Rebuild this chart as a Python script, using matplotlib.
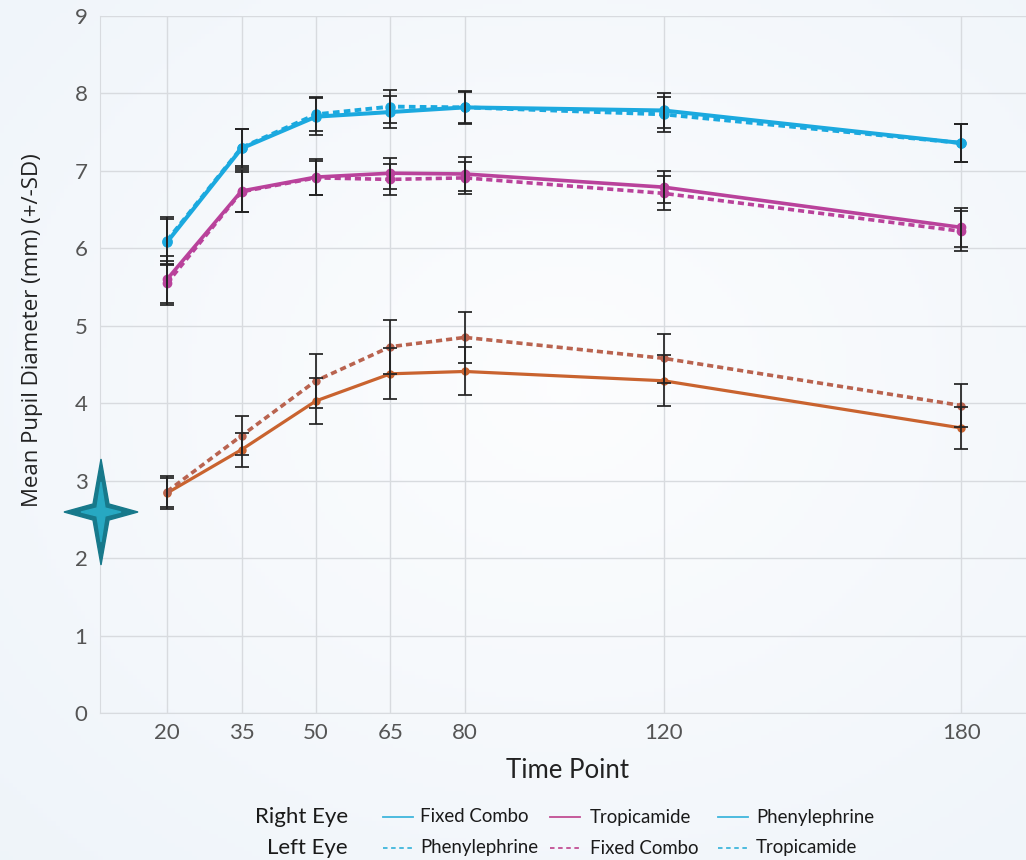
import numpy as np
import matplotlib.pyplot as plt
from matplotlib.patches import Polygon
from matplotlib.lines import Line2D

# %% data
time_points = [20, 35, 50, 65, 80, 120, 180]

blue_solid = [6.08, 7.29, 7.70, 7.76, 7.82, 7.78, 7.36]
blue_solid_sd = [0.30, 0.25, 0.24, 0.21, 0.21, 0.22, 0.25]
blue_dash = [6.10, 7.30, 7.73, 7.83, 7.82, 7.73, 7.36]
blue_dash_sd = [0.30, 0.24, 0.22, 0.21, 0.20, 0.23, 0.25]

mag_solid = [5.60, 6.74, 6.92, 6.97, 6.96, 6.79, 6.27]
mag_solid_sd = [0.30, 0.27, 0.23, 0.20, 0.22, 0.21, 0.25]
mag_dash = [5.55, 6.73, 6.91, 6.89, 6.91, 6.71, 6.22]
mag_dash_sd = [0.28, 0.26, 0.22, 0.20, 0.21, 0.22, 0.26]

org_solid = [2.84, 3.40, 4.03, 4.38, 4.41, 4.29, 3.68]
org_solid_sd = [0.20, 0.22, 0.30, 0.33, 0.31, 0.33, 0.27]
org_dash = [2.86, 3.58, 4.29, 4.73, 4.85, 4.58, 3.97]
org_dash_sd = [0.20, 0.25, 0.35, 0.35, 0.33, 0.32, 0.28]

legend_rows = ['Right Eye', 'Left Eye']
legend_right = ['Fixed Combo', 'Tropicamide', 'Phenylephrine']
legend_left = ['Phenylephrine', 'Fixed Combo', 'Tropicamide']

# %% figure
W, H = 1026, 860
fig = plt.figure(figsize=(W / 100, H / 100), dpi=100)

# soft background gradient
bg = fig.add_axes([0, 0, 1, 1], zorder=-10)
yy, xx = np.mgrid[0:1:200j, 0:1:240j]
r = np.sqrt(((xx - 0.55) / 0.95) ** 2 + ((yy - 0.45) / 0.95) ** 2)
shade = np.clip(r, 0, 1)
c0 = np.array([0.99, 0.993, 0.997])
c1 = np.array([0.925, 0.95, 0.975])
img = c0 + (c1 - c0) * shade[..., None]
bg.imshow(img, aspect='auto', extent=[0, 1, 0, 1], origin='upper')
bg.axis('off')

ax = fig.add_axes([100 / W, 1 - 713 / H, 926 / W, 697 / H])
ax.set_facecolor('none')

blue = '#1BA9DF'
mag = '#B9429B'
org = '#C9632F'
org2 = '#B9634F'
dash = (0, (1.7, 1.1))

series = [
    (org_solid, org_solid_sd, org, '-', 2.3, 5),
    (org_dash, org_dash_sd, org2, dash, 2.6, 5),
    (mag_dash, mag_dash_sd, mag, dash, 2.6, 6),
    (mag_solid, mag_solid_sd, mag, '-', 2.6, 6),
    (blue_dash, blue_dash_sd, blue, dash, 2.8, 6.5),
    (blue_solid, blue_solid_sd, blue, '-', 2.9, 6.5),
]
for vals, sd, col, ls, lw, ms in series:
    ax.plot(time_points, vals, color=col, ls=ls, lw=lw, marker='o', ms=ms, zorder=3)
for vals, sd, col, ls, lw, ms in series:
    ax.errorbar(time_points, vals, yerr=sd, fmt='none', ecolor='#222222',
                elinewidth=1.25, capsize=5, capthick=1.25, zorder=4)

ax.set_xlim(6.5, 193)
ax.set_ylim(0, 9)
ax.set_xticks(time_points)
ax.set_yticks(range(10))
ax.grid(True, color='#D8DBDF', lw=1)
ax.set_axisbelow(True)
for s in ['top', 'right']:
    ax.spines[s].set_visible(False)
for s in ['left', 'bottom']:
    ax.spines[s].set_color('#D8DBDF')
ax.tick_params(length=0, labelsize=16, labelcolor='#555555')
ax.tick_params(axis='x', pad=7)
ax.tick_params(axis='y', pad=9)
for lab in ax.get_xticklabels() + ax.get_yticklabels():
    lab.set_fontfamily('Lato')

fig.text(567 / W, 1 - 770 / H, 'Time Point', ha='center', va='center',
         fontsize=18.5, family='Lato', color='#222222')
fig.text(33 / W, 1 - 330 / H, 'Mean Pupil Diameter (mm) (+/-SD)', rotation=90,
         ha='center', va='center', fontsize=16, family='Open Sans', color='#222222')

# legend built by hand
row_y = [817, 848]
line_x = [(383, 413), (550, 580), (718, 748)]
text_x = [420, 590, 756]
row_cols = ['#3FB6DC', '#C24E93', '#3FB6DC']
for i, (name, labels, ls) in enumerate(zip(legend_rows, [legend_right, legend_left], ['-', (0, (2.5, 2))])):
    y = 1 - row_y[i] / H
    fig.text(348 / W, y, name, ha='right', va='center', fontsize=16,
             family='Lato', color='#1a1a1a')
    for (x0, x1), tx, lab, col in zip(line_x, text_x, labels, row_cols):
        fig.add_artist(Line2D([x0 / W, x1 / W], [y, y], color=col, lw=1.3, ls=ls,
                              transform=fig.transFigure))
        fig.text(tx / W, y, lab, ha='left', va='center', fontsize=13.4,
                 family='Lato', color='#1a1a1a')

# star decoration
def star(cx, cy, rv, rh, k):
    pts = [(cx, cy - rv), (cx + k, cy - k), (cx + rh, cy), (cx + k, cy + k),
           (cx, cy + rv), (cx - k, cy + k), (cx - rh, cy), (cx - k, cy - k)]
    return [(px / W, 1 - py / H) for px, py in pts]

fig.add_artist(Polygon(star(101, 512, 53, 37, 8), closed=True, color='#17798B',
                       transform=fig.transFigure, zorder=10))
fig.add_artist(Polygon(star(101, 512, 30, 20, 4), closed=True, color='#27A8C2',
                       transform=fig.transFigure, zorder=11))

plt.savefig('out.png', dpi=100)
